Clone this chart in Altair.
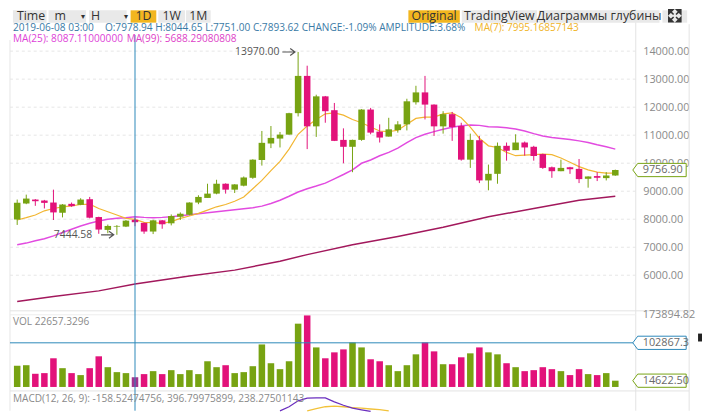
import altair as alt
import pandas as pd

# ---------------- data ----------------
candle_idx = list(range(1, 68))
opens = [7990, 8561, 8702, 8667, 8596, 8231, 8549, 8513, 8714, 8078,
         7619, 7737, 7737, 7978.94, 7870, 7560, 7960, 7854, 8090, 8160,
         8596, 8760, 8914, 9267, 9055, 9197, 9479, 10114, 10703, 10879,
         11020, 11786, 13116, 11315, 12386, 11892, 10832, 10585, 10832, 11915,
         11127, 10950, 11180, 11386, 12174, 12527, 12092, 11315, 11750, 11327,
         10126, 10820, 9385, 9620, 10620, 10467, 10738, 10586, 10326, 9855,
         9714, 9855, 9797, 9443, 9540, 9467, 9561]
highs = [8702, 8878, 8720, 8690, 9055, 8540, 8596, 8749, 8796, 8090,
         7810, 7790, 7972, 8044.65, 7880, 7980, 7975, 8170, 8243, 8605,
         8855, 9267, 9408, 9280, 9250, 9525, 10140, 11150, 11327, 11115,
         11800, 13970, 13480, 12445, 12400, 12150, 11244, 10840, 11930, 11974,
         11386, 11620, 11500, 12300, 12763, 13116, 12100, 11856, 11830, 11444,
         11055, 10973, 9950, 10738, 10738, 11032, 10773, 10620, 10340, 9880,
         10126, 9870, 10150, 9530, 9680, 9680, 9770]
lows = [7796, 8537, 8478, 8384, 7972, 8066, 8443, 8500, 8031, 7480,
        7500, 7444.58, 7720, 7751.00, 7480, 7470, 7660, 7780, 7972, 8137,
        8537, 8760, 8890, 8914, 8937, 9173, 9443, 9914, 10538, 10562,
        11020, 11668, 10503, 10938, 11444, 10790, 9997, 9679, 10800, 11032,
        10738, 10950, 11091, 11170, 12092, 11562, 10973, 11055, 10797, 10091,
        9832, 9290, 9032, 9267, 10091, 10467, 10268, 10091, 9797, 9478,
        9714, 9620, 9290, 9126, 9362, 9385, 9550]
closes = [8585, 8737, 8643, 8584, 8243, 8525, 8467, 8702, 8055, 7631,
          7760, 7760, 7949, 7893.62, 7560, 7960, 7820, 8114, 8196, 8596,
          8796, 8914, 9267, 9055, 9243, 9490, 10126, 10727, 10903, 11020,
          11786, 13116, 11315, 12386, 11856, 10797, 10585, 10832, 11915, 11091,
          10915, 11209, 11386, 12209, 12527, 12092, 11315, 11750, 11291, 10126,
          10832, 9385, 9620, 10620, 10444, 10738, 10562, 10256, 9832, 9714,
          9832, 9785, 9432, 9526, 9480, 9561, 9756.90]
volumes = [49150, 50690, 30720, 32260, 66820, 43780, 32260, 27650, 43780, 71420,
           46080, 34560, 32260, 22657.33, 29950, 36860, 29950, 39170, 29950, 39170,
           29950, 59900, 46080, 50690, 32260, 34560, 48380, 99070, 55300, 41470,
           59900, 147460, 166660, 92160, 66820, 80640, 87550, 103680, 92160, 64510,
           59900, 50690, 36860, 50690, 76030, 103680, 82940, 52990, 52990, 69120,
           78340, 92160, 80640, 76030, 55300, 46080, 36860, 39170, 46080, 41470,
           36860, 27650, 41470, 29950, 27650, 32260, 14622.50]
ma7 = [7972, 8055, 8149, 8300, 8384, 8443, 8478, 8525, 8537, 8384,
       8266, 8149, 8031, 7995.17, 7890, 7878, 7854, 7913, 8031, 8114,
       8208, 8325, 8443, 8525, 8643, 8796, 9090, 9385, 9738, 10067,
       10503, 11032, 11327, 11562, 11762, 11797, 11715, 11562, 11444, 11291,
       11150, 11127, 11174, 11386, 11598, 11645, 11645, 11762, 11797, 11621,
       11291, 10891, 10620, 10562, 10385, 10268, 10291, 10303, 10326, 10303,
       10185, 10032, 9879, 9761, 9679, 9643, 9643]
ma25 = [7089, 7148, 7231, 7301, 7407, 7525, 7643, 7760, 7854, 7937,
        7996, 8031, 8055, 8087.11, 8066, 8055, 8066, 8090, 8125, 8160,
        8196, 8231, 8266, 8302, 8337, 8372, 8408, 8467, 8561, 8678,
        8820, 8973, 9090, 9185, 9290, 9443, 9597, 9761, 9997, 10114,
        10267, 10385, 10538, 10738, 10915, 11032, 11127, 11209, 11280, 11338,
        11362, 11350, 11303, 11291, 11268, 11221, 11150, 11056, 10973, 10915,
        10879, 10844, 10797, 10738, 10656, 10585, 10503]
ma99_idx = [1, 5, 10, 14, 20, 25, 30, 33, 38, 43, 48, 53, 58, 63, 67]
ma99 = [5065, 5241, 5442, 5688.29, 5971, 6183, 6501, 6736, 7089, 7384, 7713, 8090, 8384, 8678, 8820]
dif_idx = [30, 31, 32, 33, 34, 35, 36, 37, 38, 39, 40]
dif = [590, 800, 1100, 1240, 1250, 1245, 1050, 875, 730, 640, 560]
dea_idx = [33, 34, 35, 36, 37, 38, 39, 40, 41, 42]
dea = [590, 700, 800, 830, 800, 760, 725, 685, 650, 590]
price_ticks = [6000, 7000, 8000, 9000, 10000, 11000, 12000, 13000, 14000]
cursor_idx = 14
cursor_vol = 102867.3
vol_max = 173894.82
last_price = 9756.90
last_vol = 14622.50

GREEN = "#77A312"
PINK = "#E2127A"
CROSS = "#2C88B9"
FONT = "Open Sans"

df = pd.DataFrame({"i": candle_idx, "open": opens, "high": highs, "low": lows,
                   "close": closes, "vol": volumes, "ma7": ma7, "ma25": ma25})
df["color"] = [GREEN if c >= o else PINK for o, c in zip(opens, closes)]
df["vcolor"] = ["#A3348F" if i == cursor_idx else col for i, col in zip(candle_idx, df["color"])]

xs = alt.Scale(domain=[1, 67], range=[4.3, 619.3], nice=False, zero=False)
X = alt.X("i:Q", scale=xs, axis=None)
ps = alt.Scale(domain=[6000, 14000], range=[268, 41.3], nice=False, zero=False)
vs = alt.Scale(domain=[0, vol_max], range=[381, 305.5], nice=False, zero=False)
ms = alt.Scale(domain=[600, 1250], range=[405, 392], nice=False, zero=False)

one = pd.DataFrame({"a": [0]})


def box(x1, x2, y1, y2, color):
    return alt.Chart(one).mark_rect(color=color).encode(
        x=alt.value(x1), x2=alt.value(x2), y=alt.value(y1), y2=alt.value(y2))


def line(x1, x2, y1, y2, color, dash=None, w=1):
    kw = dict(color=color, strokeWidth=w)
    if dash:
        kw["strokeDash"] = dash
    return alt.Chart(one).mark_rule(**kw).encode(
        x=alt.value(x1), x2=alt.value(x2), y=alt.value(y1), y2=alt.value(y2))


def txt(s, x, y, color, size=10.2, align="left", baseline="alphabetic"):
    return alt.Chart(pd.DataFrame({"t": [s]})).mark_text(
        align=align, baseline=baseline, fontSize=size, color=color, font=FONT).encode(
        x=alt.value(x), y=alt.value(y), text="t:N")


layers = []

# ---- frame lines ----
layers += [
    line(2, 2, 30, 405, "#E6E6E6"),
    line(635, 635, 12, 405, "#E3E3E3"),
    line(689, 689, 14, 405, "#E3E3E3"),
    line(2, 689, 304, 304, "#E3E3E3"),
    line(2, 635, 308, 308, "#EDEDED"),
    line(2, 689, 385, 385, "#E3E3E3"),
]

# ---- price grid + axis ----
grid = alt.Chart(pd.DataFrame({"p": price_ticks})).mark_rule(
    color="#E6E6E6", strokeDash=[3, 3]).encode(
    y=alt.Y("p:Q", scale=ps, axis=alt.Axis(
        orient="right", offset=-67, values=price_ticks, format=".2f", ticks=False,
        domain=False, grid=False, labelColor="#8A8A8A", labelFontSize=11,
        labelFont=FONT, labelPadding=7, title=None)),
    x=alt.value(2), x2=alt.value(635))
layers.append(grid)

# ---- moving averages ----
layers.append(alt.Chart(pd.DataFrame({"i": ma99_idx, "v": ma99})).mark_line(
    color="#A2185C", strokeWidth=1.5).encode(x=X, y=alt.Y("v:Q", scale=ps, axis=None)))
layers.append(alt.Chart(df).mark_line(color="#E24BE0", strokeWidth=1.5).encode(
    x=X, y=alt.Y("ma25:Q", scale=ps, axis=None)))
layers.append(alt.Chart(df).mark_line(color="#F2B632", strokeWidth=1.2).encode(
    x=X, y=alt.Y("ma7:Q", scale=ps, axis=None)))

# ---- candles ----
layers.append(alt.Chart(df).mark_rule(strokeWidth=1).encode(
    x=X, y=alt.Y("low:Q", scale=ps, axis=None), y2="high:Q",
    color=alt.Color("color:N", scale=None)))
layers.append(alt.Chart(df).mark_bar(size=6.6).encode(
    x=X, y=alt.Y("open:Q", scale=ps, axis=None), y2="close:Q",
    color=alt.Color("color:N", scale=None)))

# ---- volume ----
layers.append(alt.Chart(df).mark_bar(size=6.6).encode(
    x=X, y=alt.Y("vol:Q", scale=vs, axis=None),
    color=alt.Color("vcolor:N", scale=None)))

# ---- MACD lines ----
layers.append(alt.Chart(pd.DataFrame({"i": dea_idx, "v": dea})).mark_line(
    color="#F2C23A", strokeWidth=1.3).encode(x=X, y=alt.Y("v:Q", scale=ms, axis=None)))
layers.append(alt.Chart(pd.DataFrame({"i": dif_idx, "v": dif})).mark_line(
    color="#6B2FBF", strokeWidth=1.3).encode(x=X, y=alt.Y("v:Q", scale=ms, axis=None)))

# ---- crosshair ----
layers.append(alt.Chart(pd.DataFrame({"i": [cursor_idx]})).mark_rule(
    color=CROSS, strokeWidth=1).encode(x=X, y=alt.value(25), y2=alt.value(405)))
layers.append(alt.Chart(pd.DataFrame({"v": [cursor_vol]})).mark_rule(
    color=CROSS, strokeWidth=1).encode(
    y=alt.Y("v:Q", scale=vs, axis=None), x=alt.value(2), x2=alt.value(635)))

# ---- high / low annotations ----
ARROW = "M-4,0L-0.8,0M-2,-0.9L-0.8,0L-2,0.9"
ann_hi = pd.DataFrame({"i": [32], "p": [13970.0], "t": ["13970.00"]})
ann_lo = pd.DataFrame({"i": [12], "p": [7444.58], "t": ["7444.58"]})
for d, dx in ((ann_hi, -19), (ann_lo, -25)):
    layers.append(alt.Chart(d).mark_point(shape=ARROW, size=64, filled=False,
                                           color="#555555", strokeWidth=1.2, opacity=1).encode(
        x=X, y=alt.Y("p:Q", scale=ps, axis=None)))
    layers.append(alt.Chart(d).mark_text(align="right", baseline="middle", dx=dx, dy=0.5,
                                          fontSize=10.5, font=FONT, color="#555555").encode(
        x=X, y=alt.Y("p:Q", scale=ps, axis=None), text="t:N"))

# ---- right-side tags ----
TAG = "M-1,0L-0.815,-0.248L1,-0.248L1,0.248L-0.815,0.248Z"


def tag(value, label, scale, stroke):
    d = pd.DataFrame({"v": [value], "t": [label]})
    pt = alt.Chart(d).mark_point(shape=TAG, size=2916, filled=True, fill="white",
                                 stroke=stroke, strokeWidth=1, opacity=1).encode(
        x=alt.value(659), y=alt.Y("v:Q", scale=scale, axis=None))
    tx = alt.Chart(d).mark_text(align="left", baseline="middle", fontSize=11, font=FONT,
                                color="#6A6A6A", dy=0.5).encode(
        x=alt.value(642), y=alt.Y("v:Q", scale=scale, axis=None), text="t:N")
    return [pt, tx]


layers.append(alt.Chart(pd.DataFrame({"v": [vol_max], "t": ["173894.82"]})).mark_text(
    align="left", baseline="middle", dy=3, fontSize=11, font=FONT, color="#8A8A8A").encode(
    x=alt.value(642), y=alt.Y("v:Q", scale=vs, axis=None), text="t:N"))
layers += tag(last_price, "9756.90", ps, GREEN)
layers += tag(cursor_vol, "102867.3", vs, CROSS)
layers += tag(last_vol, "14622.50", vs, GREEN)

# ---- toolbar ----
GRAYBTN = "#E9E9E9"
ORANGE = "#F2B61F"
TB = 12.5
TBY = 10
layers += [
    box(5, 39, 0, 12.5, GRAYBTN), box(41, 79, 0, 12.5, GRAYBTN), box(82, 120, 0, 12.5, GRAYBTN),
    box(124, 150, 0, 12.5, ORANGE), box(152, 179, 0, 12.5, GRAYBTN), box(180, 205, 0, 12.5, GRAYBTN),
    box(405, 457, 0, 12.5, ORANGE), box(459, 535, 0, 12.5, GRAYBTN), box(537, 659, 0, 12.5, GRAYBTN),
    box(662, 687, 0, 12.5, GRAYBTN),
    txt("Time", 9, TBY, "#333333", TB),
    txt("m", 47, TBY, "#333333", TB),
    txt("▾", 74, TBY - 1, "#333333", 8),
    txt("H", 84, TBY, "#333333", TB),
    txt("▾", 117, TBY - 1, "#333333", 8),
    txt("1D", 137, TBY, "#333333", TB, "center"),
    txt("1W", 165.5, TBY, "#333333", TB, "center"),
    txt("1M", 192.5, TBY, "#333333", TB, "center"),
    txt("Original", 431, TBY, "#333333", TB, "center"),
    txt("TradingView", 497, TBY, "#333333", TB, "center"),
    txt("Диаграммы глубины", 598, TBY, "#333333", TB, "center"),
]
ICON = ("M-1,-1L-0.3,-1L-1,-0.3Z M1,-1L0.3,-1L1,-0.3Z M-1,1L-0.3,1L-1,0.3Z M1,1L0.3,1L1,0.3Z "
        "M-0.6,-0.6L-0.2,-0.2 M0.6,-0.6L0.2,-0.2 M-0.6,0.6L-0.2,0.2 M0.6,0.6L0.2,0.2")
layers.append(alt.Chart(one).mark_point(shape=ICON, size=150, filled=True, color="#333333",
                                         stroke="#333333", strokeWidth=1.5, opacity=1).encode(
    x=alt.value(674.5), y=alt.value(5.5)))
layers.append(box(698, 702, 327, 335, "#222222"))

# ---- info lines ----
INFO = "#3A7AA6"
layers += [
    txt("2019-06-08 03:00", 5, 21, INFO),
    txt("O:7978.94 H:8044.65 L:7751.00 C:7893.62 CHANGE:-1.09% AMPLITUDE:3.68%", 98, 21, INFO),
    txt("MA(7): 7995.16857143", 472, 21, "#F0B428"),
    txt("MA(25): 8087.11000000", 5, 32, "#DE3FD8"),
    txt("MA(99): 5688.29080808", 120, 32, "#DE3FC8"),
    txt("VOL 22657.3296", 5, 318, "#8A8A8A"),
    txt("MACD(12, 26, 9): -158.52474756, 396.79975899, 238.27501143", 5, 396, "#8A8A8A"),
]

chart = alt.layer(*layers).resolve_scale(y="independent").properties(
    width=702, height=405, autosize=alt.AutoSizeParams(type="none"), padding=0,
    background="white").configure_view(strokeWidth=0)

chart.save("out.html", embed_options={"renderer": "svg", "actions": False})
